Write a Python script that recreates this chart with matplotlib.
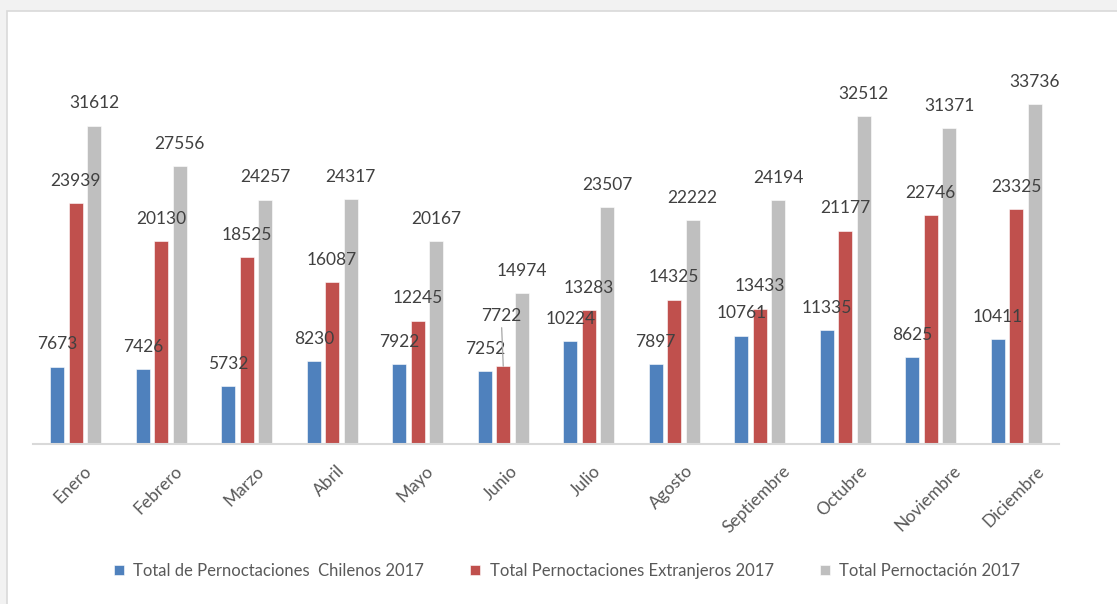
import numpy as np
import matplotlib
matplotlib.use("Agg")
import matplotlib.pyplot as plt
import matplotlib.transforms as mtransforms
from matplotlib.patches import Rectangle

# Datos (pernoctaciones 2017)
meses = ['Enero', 'Febrero', 'Marzo', 'Abril', 'Mayo', 'Junio', 'Julio',
         'Agosto', 'Septiembre', 'Octubre', 'Noviembre', 'Diciembre']
chilenos = [7673, 7426, 5732, 8230, 7922, 7252, 10224, 7897, 10761, 11335, 8625, 10411]
extranjeros = [23939, 20130, 18525, 16087, 12245, 7722, 13283, 14325, 13433, 21177, 22746, 23325]
total = [31612, 27556, 24257, 24317, 20167, 14974, 23507, 22222, 24194, 32512, 31371, 33736]

series = [
    ('Total de Pernoctaciones  Chilenos 2017', chilenos, '#4F81BD'),
    ('Total Pernoctaciones Extranjeros 2017', extranjeros, '#C0504D'),
    ('Total Pernoctación 2017', total, '#BFBFBF'),
]

plt.rcParams['font.family'] = ['Lato', 'DejaVu Sans']

W, H = 1117, 604
fig = plt.figure(figsize=(W / 100, H / 100), dpi=100)
fig.patch.set_facecolor('#F2F2F2')
# marco blanco del grafico
fig.patches.append(Rectangle((7 / W, -0.1), 1.2, 1 - 11 / H + 0.1,
                             transform=fig.transFigure, facecolor='white',
                             edgecolor='#D9D9D9', linewidth=1.2, zorder=-5))

ax = fig.add_axes([33 / W, 1 - 444 / H, (1059 - 33) / W, (444 - 41) / H])
ax.set_facecolor('none')
ax.set_zorder(1)

x = np.arange(len(meses))
ancho = 0.167
paso = 0.216
text_color = '#404040'
fs = 12.5

for i, (nombre, valores, color) in enumerate(series):
    pos = x + (i - 1) * paso
    ax.bar(pos, valores, width=ancho, color=color, label=nombre,
           edgecolor='white', linewidth=0.4, zorder=2)
    for j, v in enumerate(valores):
        if nombre.startswith('Total Pernoctaciones Extranjeros') and meses[j] == 'Junio':
            # etiqueta desplazada con linea guia
            ax.annotate(str(v), (pos[j], v), xytext=(-1.5, 36.5),
                        textcoords='offset points', ha='center', va='center',
                        fontsize=fs, color=text_color,
                        arrowprops=dict(arrowstyle='-', color='#A6A6A6', lw=0.9,
                                        shrinkA=1, shrinkB=0))
        else:
            ax.annotate(str(v), (pos[j], v), xytext=(0, 16),
                        textcoords='offset points', ha='center', va='center',
                        fontsize=fs, color=text_color)

ax.set_xlim(-0.5, len(meses) - 0.5)
ax.set_ylim(0, 40000)
ax.set_yticks([])
for s in ['top', 'left', 'right']:
    ax.spines[s].set_visible(False)
ax.spines['bottom'].set_color('#D9D9D9')
ax.spines['bottom'].set_linewidth(1.5)

ax.set_xticks(x)
ax.set_xticklabels(meses, rotation=45, ha='center', va='top', fontsize=fs,
                   color='#595959')
ax.tick_params(axis='x', length=0, pad=13.5)
offset = mtransforms.ScaledTranslation(-3 / 100, 0, fig.dpi_scale_trans)
for lbl in ax.get_xticklabels():
    lbl.set_transform(lbl.get_transform() + offset)

ax.legend(loc='center', bbox_to_anchor=(567 / W, 1 - 571 / H),
          bbox_transform=fig.transFigure, ncol=3, frameon=False, fontsize=12,
          handlelength=0.6, handleheight=0.6, handletextpad=0.55,
          columnspacing=2.8, labelcolor='#595959')

fig.savefig('out.png', dpi=100, facecolor=fig.get_facecolor())
